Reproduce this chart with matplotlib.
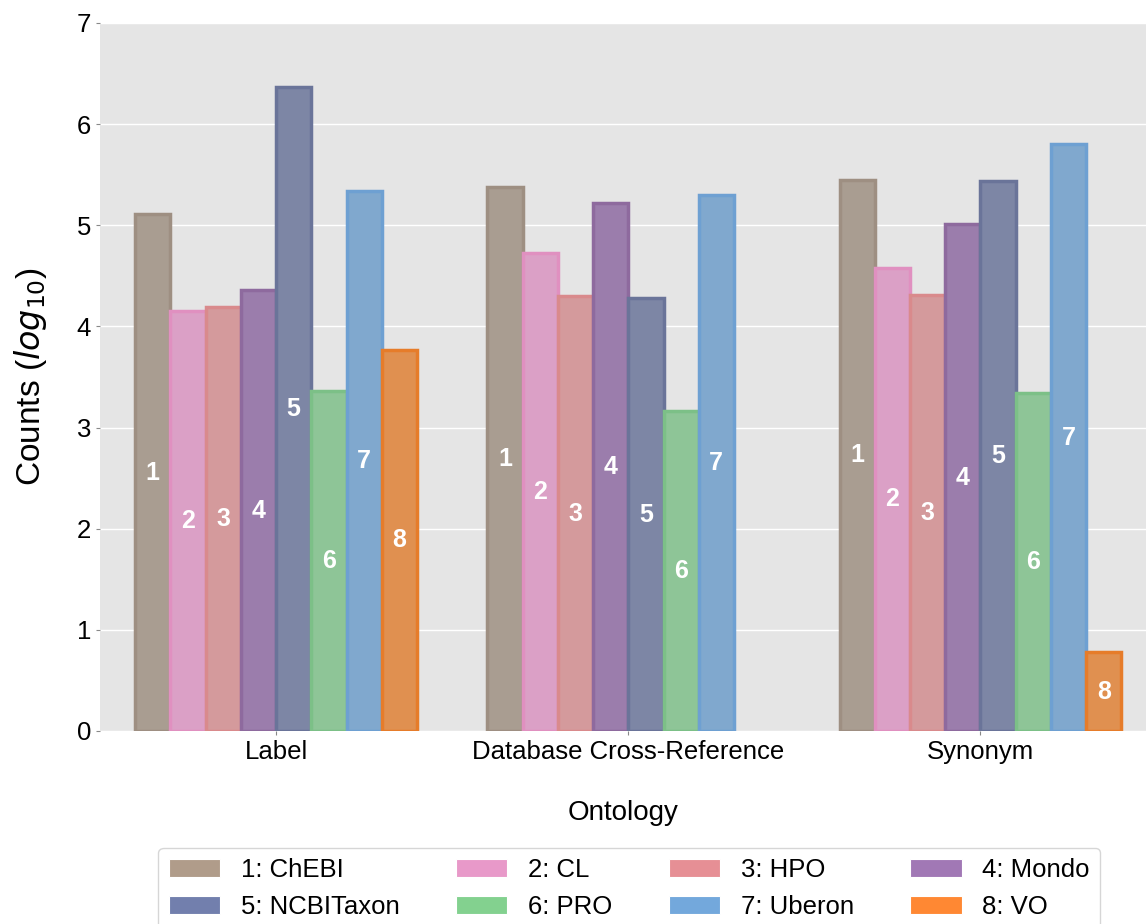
import matplotlib
matplotlib.use("Agg")
import matplotlib.pyplot as plt
import numpy as np

plt.rcParams['font.family'] = ['Liberation Sans', 'DejaVu Sans']

categories = ["Label", "Database Cross-Reference", "Synonym"]
ontologies = ["ChEBI", "CL", "HPO", "Mondo", "NCBITaxon", "PRO", "Uberon", "VO"]
values = {
    "ChEBI":     [5.11, 5.38, 5.45],
    "CL":        [4.15, 4.73, 4.58],
    "HPO":       [4.19, 4.30, 4.31],
    "Mondo":     [4.36, 5.22, 5.01],
    "NCBITaxon": [6.37, 4.28, 5.44],
    "PRO":       [3.36, 3.16, 3.34],
    "Uberon":    [5.34, 5.30, 5.80],
    "VO":        [3.77, np.nan, 0.78],
}
legend_colors = ["#b09c8a", "#e899c9", "#e68f95", "#a178b5",
                 "#727fad", "#83d18f", "#73a8dc", "#ff8833"]
fill_colors = ["#a99d91", "#dba0c6", "#d49a9c", "#9b7dac",
               "#7d86a5", "#8ec597", "#80a8ce", "#e09050"]
edge_colors = ["#9e8f82", "#e090c0", "#d98a8c", "#8e6a9e",
               "#6a7499", "#7cc087", "#6ea0d2", "#e67c2a"]

fig = plt.figure(figsize=(11.46, 9.24), dpi=100)
ax = fig.add_axes([100/1146, 1-731/924, 1-100/1146, (731-23)/924])
ax.set_facecolor("#e5e5e5")

x = np.arange(len(categories))
w = 0.1
handles = []
for i, name in enumerate(ontologies):
    v = np.array(values[name], dtype=float)
    pos = x + (i - 3.5) * w
    ax.bar(pos, v, width=w, color=fill_colors[i], edgecolor=edge_colors[i],
           linewidth=2.5, zorder=3)
    for p, val in zip(pos, v):
        if np.isfinite(val):
            ax.text(p, val / 2, str(i + 1), ha="center", va="center",
                    color="white", fontsize=18, fontweight="bold", zorder=4)
    handles.append(plt.Rectangle((0, 0), 1, 1, facecolor=legend_colors[i],
                                 edgecolor="white", linewidth=0.8))

ax.set_xlim(-0.5, 2.47)
ax.set_ylim(0, 7)
ax.set_xticks(x)
ax.set_xticklabels(categories, fontsize=18.5)
ax.set_yticks(range(0, 8))
ax.tick_params(axis="y", labelsize=18.5, length=3, color="#888888")
ax.tick_params(axis="x", length=3, color="#888888")
ax.yaxis.grid(True, color="white", linewidth=1)
ax.set_axisbelow(True)
for s in ax.spines.values():
    s.set_visible(False)

ax.set_ylabel("Counts ($log_{10}$)", fontsize=24, labelpad=20)
ax.set_xlabel("Ontology", fontsize=20, labelpad=26)

labels = [f"{i+1}: {n}" for i, n in enumerate(ontologies)]
order = [0, 4, 1, 5, 2, 6, 3, 7]
fig.legend([handles[k] for k in order], [labels[k] for k in order],
           loc="upper center", bbox_to_anchor=(0.549, 1 - 848/924), ncol=4,
           fontsize=18.5, handlelength=2.0, handleheight=0.7, columnspacing=2.2,
           handletextpad=0.8, frameon=True, edgecolor="#cccccc", fancybox=True,
           borderpad=0.4, labelspacing=0.5, borderaxespad=0)

fig.savefig("out.png", dpi=100)
